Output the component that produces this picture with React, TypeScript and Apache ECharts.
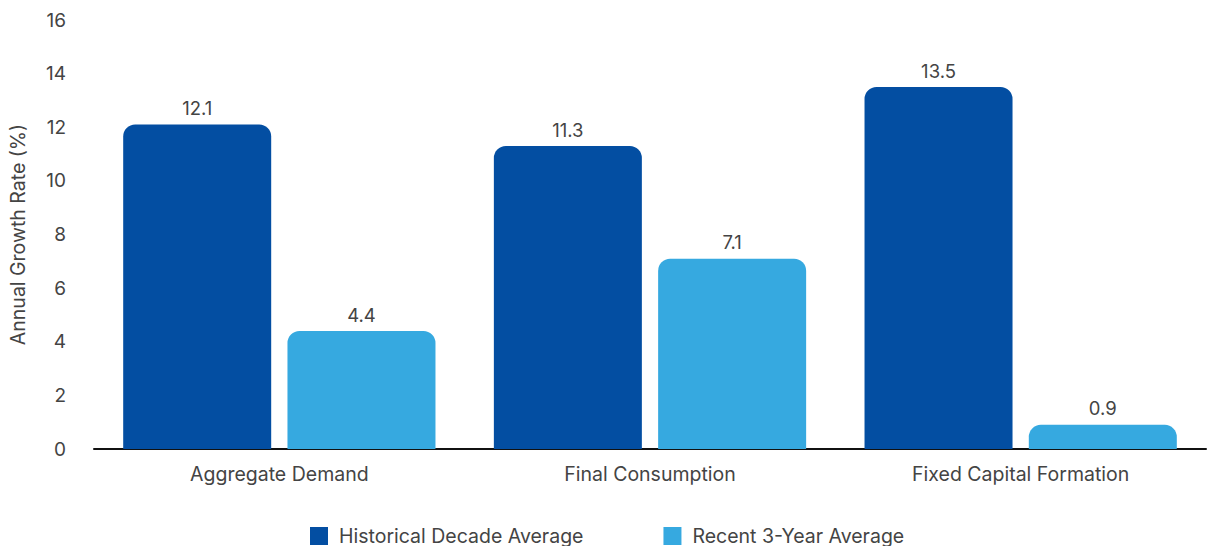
import React, { useEffect, useRef } from "react";
import * as echarts from "echarts";

const categories = ["Aggregate Demand", "Final Consumption", "Fixed Capital Formation"];
const historical = [12.1, 11.3, 13.5];
const recent = [4.4, 7.1, 0.9];
const seriesNames = ["Historical Decade Average", "Recent 3-Year Average"];
const yTicks = { min: 0, max: 16, interval: 2 };

export default function App() {
  const ref = useRef<HTMLDivElement>(null);
  useEffect(() => {
    if (!ref.current) return;
    const chart = echarts.init(ref.current, null, { renderer: "svg" });
    const font = "Inter, 'Noto Sans', sans-serif";
    const label = {
      show: true,
      position: "top",
      distance: 7,
      color: "#444",
      fontSize: 18.5,
      fontFamily: font,
      formatter: (p: any) => p.value.toFixed(1),
    };
    chart.setOption({
      animation: false,
      textStyle: { fontFamily: font },
      grid: { left: 93, right: 1, top: 20, bottom: 97 },
      legend: {
        bottom: -5,
        left: 305,
        itemWidth: 18,
        itemHeight: 18,
        itemGap: 80,
        icon: "rect",
        textStyle: { fontSize: 19.5, color: "#444", fontFamily: font, padding: [0, 0, 0, 6] },
        data: seriesNames,
      },
      xAxis: {
        type: "category",
        data: categories,
        axisLine: { lineStyle: { color: "#111", width: 2 } },
        axisTick: { show: false },
        axisLabel: { color: "#444", fontSize: 19.5, margin: 15, fontFamily: font },
      },
      yAxis: {
        type: "value",
        min: yTicks.min,
        max: yTicks.max,
        interval: yTicks.interval,
        name: "Annual Growth Rate (%)",
        nameLocation: "middle",
        nameGap: 66,
        nameTextStyle: { color: "#444", fontSize: 19.5, fontFamily: font },
        splitLine: { show: false },
        axisLine: { show: false },
        axisTick: { show: false },
        axisLabel: { color: "#444", fontSize: 19, margin: 28, align: "right", fontFamily: font },
      },
      series: [
        {
          name: seriesNames[0],
          type: "bar",
          data: historical,
          barWidth: 148,
          barGap: "11%",
          itemStyle: { color: "#034EA2", borderRadius: [12, 12, 0, 0] },
          label,
        },
        {
          name: seriesNames[1],
          type: "bar",
          data: recent,
          barWidth: 148,
          itemStyle: { color: "#36A9E0", borderRadius: [12, 12, 0, 0] },
          label,
        },
      ],
    });
    return () => chart.dispose();
  }, []);
  return <div ref={ref} style={{ width: 1207, height: 546, position: "absolute", left: 0, top: 0 }} />;
}
